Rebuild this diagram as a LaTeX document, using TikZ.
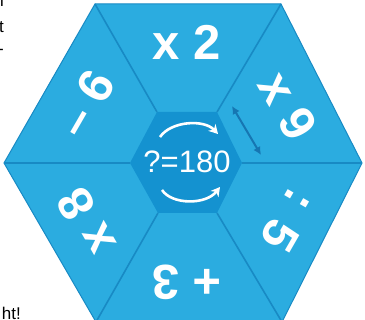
\documentclass[tikz,border=0pt]{standalone}
\usepackage{fontspec}
\setmainfont{Liberation Sans}
\usetikzlibrary{arrows.meta}
\definecolor{hexfill}{RGB}{43,172,224}
\definecolor{hexline}{RGB}{24,138,196}
\definecolor{hexinner}{RGB}{20,146,208}
\definecolor{arrowdark}{RGB}{22,118,178}
\tikzset{
  oplabel/.style={text=white, font=\fontsize{49}{49}\selectfont\bfseries, inner sep=0pt},
  divider/.style={draw=hexline, line width=1.6pt},
  sidetext/.style={text=black, font=\fontsize{17}{17}\selectfont, inner sep=0pt, anchor=base east},
  turnarrow/.style={draw=white, line width=2.6pt, -{Stealth[length=9pt,width=10pt]}},
}
\begin{document}
\begin{tikzpicture}[x=1pt,y=-1pt]
\useasboundingbox (0,0) rectangle (365,320);
% outer hexagon vertices
\coordinate (oTL) at (95,4);
\coordinate (oTR) at (281,4);
\coordinate (oR) at (362,163);
\coordinate (oBR) at (282,322);
\coordinate (oBL) at (96,322);
\coordinate (oL) at (4,163);
% inner hexagon vertices
\coordinate (iTL) at (157,112);
\coordinate (iTR) at (217,112);
\coordinate (iR) at (242,163);
\coordinate (iBR) at (217,213);
\coordinate (iBL) at (158,213);
\coordinate (iL) at (130,163);
\fill[hexfill] (oTL) -- (oTR) -- (oR) -- (oBR) -- (oBL) -- (oL) -- cycle;
\draw[hexline, line width=1pt] (oTL) -- (oTR) -- (oR) -- (oBR) -- (oBL) -- (oL) -- cycle;
\fill[hexinner] (iTL) -- (iTR) -- (iR) -- (iBR) -- (iBL) -- (iL) -- cycle;
\draw[divider] (oTL) -- (iTL);
\draw[divider] (oTR) -- (iTR);
\draw[divider] (oR) -- (iR);
\draw[divider] (oBR) -- (iBR);
\draw[divider] (oBL) -- (iBL);
\draw[divider] (oL) -- (iL);
% labels
\node[oplabel] (l2) at (187,42) {x 2};
\node[oplabel, rotate=-60] (l9) at (288,106) {x 9};
\node[oplabel, rotate=-120] (l5) at (289,221) {: 5};
\node[oplabel, rotate=180] (l3) at (187,282) {+ 3};
\node[oplabel, rotate=120] (l8) at (86,222) {x 8};
\node[oplabel, rotate=60] (l6) at (86,104) {– 6};
% centre
\node[text=white, font=\fontsize{31}{31}\selectfont, inner sep=0pt] (c) at (187,162) {?=180};
\coordinate (a1s) at (160,137);
\coordinate (a1e) at (218,134);
\coordinate (a2s) at (162,190);
\coordinate (a2e) at (220,187);
\draw[turnarrow] (a1s) .. controls (171,121) and (204,119) .. (a1e);
\draw[turnarrow] (a2s) .. controls (172,205) and (206,205) .. (a2e);
\coordinate (d1) at (232,106);
\coordinate (d2) at (261,155);
\draw[arrowdark, line width=2pt, {Latex[length=8pt,width=8pt]}-{Latex[length=8pt,width=8pt]}] (d1) -- (d2);
% cropped side text
\node[sidetext] (s1) at (4,7) {n};
\node[sidetext] (s2) at (4,33) {t};
\node[sidetext] (s3) at (4,55) {-};
\node[sidetext] (s4) at (21,320) {ht!};
\end{tikzpicture}
\end{document}
